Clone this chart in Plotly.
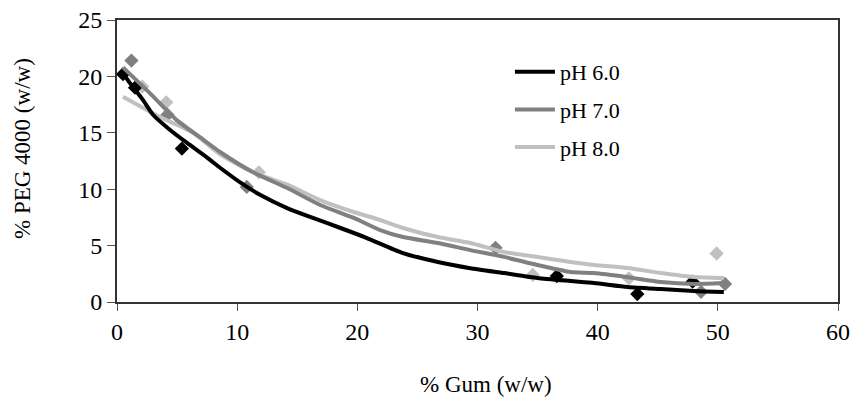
import plotly.graph_objects as go

# Measured data points (markers)
ph6_pts_x = [0.5, 1.5, 5.4, 36.6, 43.3, 47.9]
ph6_pts_y = [20.2, 19.0, 13.6, 2.3, 0.7, 1.8]
ph7_pts_x = [1.2, 4.2, 10.8, 31.5, 48.6, 50.6]
ph7_pts_y = [21.4, 16.6, 10.2, 4.8, 0.9, 1.6]
ph8_pts_x = [2.1, 4.1, 11.8, 34.6, 42.6, 49.9]
ph8_pts_y = [19.1, 17.7, 11.5, 2.4, 2.1, 4.3]

# Fitted curves
ph6_fit_x = [0.5, 1.08, 2.17, 3.0, 4.42, 5.83, 7.5, 8.58, 10.25, 11.9, 14.2, 16.3, 18.6, 20.8,
             23.8, 26.7, 29.4, 32.2, 35.0, 37.75, 39.7, 42.5, 45.25, 48.0, 50.5]
ph6_fit_y = [20.3, 19.4, 17.9, 16.6, 15.25, 14.1, 12.8, 11.9, 10.6, 9.5, 8.3, 7.45, 6.56, 5.67,
             4.34, 3.55, 3.0, 2.57, 2.13, 1.86, 1.68, 1.33, 1.15, 0.98, 0.89]
ph7_fit_x = [0.5, 2.75, 5.0, 7.17, 8.58, 11.33, 14.17, 16.9, 19.7, 21.9, 23.8, 26.7, 29.4,
             32.2, 35.0, 37.75, 39.7, 42.5, 45.25, 48.0, 50.5]
ph7_fit_y = [20.8, 18.5, 16.1, 14.4, 13.3, 11.5, 10.1, 8.6, 7.45, 6.38, 5.76, 5.23, 4.6,
             4.0, 3.28, 2.66, 2.57, 2.2, 1.77, 1.6, 1.68]
ph8_fit_x = [0.5, 3.58, 6.33, 8.58, 11.33, 14.17, 16.9, 19.7, 21.9, 23.8, 26.7, 29.4, 32.2,
             35.0, 37.75, 39.7, 42.5, 45.25, 48.0, 50.5]
ph8_fit_y = [18.2, 16.4, 15.0, 13.1, 11.5, 10.4, 9.04, 7.98, 7.27, 6.56, 5.76, 5.23, 4.43,
             3.99, 3.55, 3.28, 3.01, 2.57, 2.22, 2.13]

series_names = ["pH 6.0", "pH 7.0", "pH 8.0"]
colors = ["#000000", "#808080", "#c0c0c0"]

x_ticks = [0, 10, 20, 30, 40, 50, 60]
y_ticks = [0, 5, 10, 15, 20, 25]

x_title = "% Gum (w/w)"
y_title = "% PEG 4000 (w/w)"

FONT = "Liberation Serif, Times New Roman, serif"

fig = go.Figure()

pts = [(ph6_pts_x, ph6_pts_y), (ph7_pts_x, ph7_pts_y), (ph8_pts_x, ph8_pts_y)]
fits = [(ph6_fit_x, ph6_fit_y), (ph7_fit_x, ph7_fit_y), (ph8_fit_x, ph8_fit_y)]

for i in [2, 1, 0]:
    fig.add_trace(go.Scatter(
        x=pts[i][0], y=pts[i][1], mode="markers",
        marker=dict(symbol="diamond", size=11, color=colors[i], line=dict(width=0)),
        showlegend=False, hoverinfo="skip", cliponaxis=False))

for i in [2, 1, 0]:
    fig.add_trace(go.Scatter(
        x=fits[i][0], y=fits[i][1], mode="lines", name=series_names[i],
        line=dict(color=colors[i], width=4, shape="spline", smoothing=0.6),
        legendgroup=series_names[i], legendrank=i + 1))

fig.update_layout(
    width=855, height=406,
    margin=dict(l=117, r=17, t=20, b=104),
    paper_bgcolor="white", plot_bgcolor="white",
    font=dict(family=FONT, size=24, color="#000000"),
    showlegend=True,
    legend=dict(x=0.545, y=0.89, xanchor="left", yanchor="top",
                bgcolor="rgba(0,0,0,0)", font=dict(family=FONT, size=22),
                tracegroupgap=6, traceorder="grouped", itemwidth=40),
    xaxis=dict(range=[0, 60], tickvals=x_ticks, ticktext=[str(v) for v in x_ticks],
               showgrid=False, zeroline=False, showline=True, linecolor="#333333",
               linewidth=2, mirror=True, ticks="outside", ticklen=7, tickcolor="#555555",
               tickwidth=1, automargin=False, ticklabeloverflow="allow"),
    yaxis=dict(range=[0, 25], tickvals=y_ticks, ticktext=[str(v) for v in y_ticks],
               showgrid=False, zeroline=False, showline=True, linecolor="#333333",
               linewidth=2, mirror=True, ticks="outside", ticklen=8, tickcolor="#555555",
               tickwidth=1, automargin=False, ticklabeloverflow="allow"),
    annotations=[
        dict(text=x_title, xref="paper", yref="paper", x=0.512, y=-0.294,
             xanchor="center", yanchor="middle", showarrow=False,
             font=dict(family=FONT, size=23)),
        dict(text=y_title, xref="paper", yref="paper", x=-0.1318, y=0.546,
             xanchor="center", yanchor="middle", showarrow=False, textangle=-90,
             font=dict(family=FONT, size=23)),
    ],
)

# Remove the browser's default page margin so the figure fills the window exactly.
fig.write_html("out.html",
               config={"displayModeBar": False},
               post_script="document.body.style.margin='0';document.body.style.overflow='hidden';")
